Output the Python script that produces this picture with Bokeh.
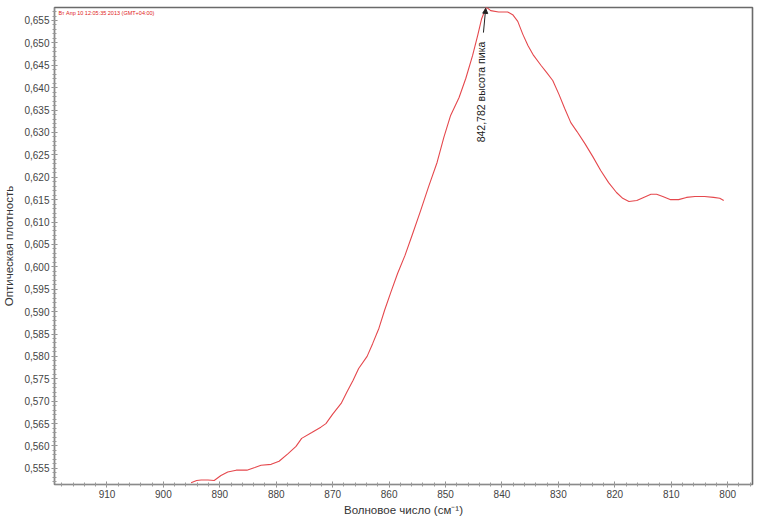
from bokeh.plotting import figure
from bokeh.models import Range1d, SingleIntervalTicker, CustomJSTickFormatter, Arrow, NormalHead, Label
from bokeh.core.properties import value
from bokeh.embed import file_html
from bokeh.resources import INLINE

# Spectrum (wavenumber, optical density)
wavenumber = [895.1, 894.1, 893.3, 892.1, 891.0, 889.8, 888.6, 887.1, 885.2, 883.8,
              882.7, 880.9, 879.5, 877.9, 876.5, 875.5, 873.7, 872.1, 871.2, 870.0,
              868.5, 867.5, 866.4, 865.4, 863.9, 862.9, 861.8, 860.8, 859.7, 858.5,
              857.2, 855.8, 854.4, 853.0, 851.5, 850.3, 849.1, 847.6, 846.4, 845.2,
              844.3, 843.6, 842.782, 842.0, 840.6, 839.0, 838.1, 837.2, 836.3, 835.4,
              834.4, 833.1, 832.1, 831.0, 829.9, 828.9, 827.8, 826.7, 825.3, 823.9,
              822.5, 821.1, 819.7, 818.6, 817.5, 816.1, 814.9, 813.6, 812.6, 811.5,
              810.1, 808.7, 807.3, 805.8, 804.1, 802.5, 801.4, 800.7]
absorbance = [0.5518, 0.5523, 0.5524, 0.5524, 0.5523, 0.5534, 0.5542, 0.5546, 0.5546, 0.5552,
              0.5557, 0.5559, 0.5566, 0.5583, 0.5599, 0.5617, 0.5630, 0.5642, 0.5650, 0.5671,
              0.5695, 0.5720, 0.5746, 0.5773, 0.5800, 0.5829, 0.5863, 0.5903, 0.5943, 0.5985,
              0.6025, 0.6075, 0.6126, 0.6179, 0.6233, 0.6289, 0.6338, 0.6378, 0.6421, 0.6472,
              0.6517, 0.6554, 0.6580, 0.6572, 0.6569, 0.6569, 0.6563, 0.6548, 0.6519, 0.6494,
              0.6472, 0.6450, 0.6434, 0.6416, 0.6385, 0.6354, 0.6322, 0.6302, 0.6275, 0.6246,
              0.6215, 0.6188, 0.6166, 0.6153, 0.6146, 0.6148, 0.6155, 0.6162, 0.6162, 0.6157,
              0.6150, 0.6150, 0.6155, 0.6157, 0.6157, 0.6155, 0.6153, 0.6148]

peak_x = 842.782
peak_y = 0.6580
peak_text = "842,782 высота пика"
header_text = "Вт Апр 10 12:05:35 2013 (GMT+04:00)"
x_label = "Волновое число (см⁻¹)"
y_label = "Оптическая плотность"

x_lo, x_hi = 919.3, 795.6
y_lo, y_hi = 0.5514, 0.6579

p = figure(width=756, height=520, output_backend="svg", toolbar_location=None,
           x_range=Range1d(x_lo, x_hi), y_range=Range1d(y_lo, y_hi),
           min_border_left=53, min_border_right=4, min_border_top=7, min_border_bottom=36)
p.background_fill_color = "white"
p.border_fill_color = "white"
p.grid.visible = False
p.outline_line_color = "#6a6a6a"
p.outline_line_width = 1.6

p.line(wavenumber, absorbance, line_color="#e5484d", line_width=1.1)

FONT = "Liberation Sans"
p.xaxis.ticker = SingleIntervalTicker(interval=10, num_minor_ticks=5)
p.yaxis.ticker = SingleIntervalTicker(interval=0.005, num_minor_ticks=5)
p.yaxis.formatter = CustomJSTickFormatter(code="return tick.toFixed(3).replace('.', ',');")
for ax in (p.xaxis[0], p.yaxis[0]):
    ax.axis_line_color = "#8a8a8a"
    ax.major_tick_line_color = "#8a8a8a"
    ax.minor_tick_line_color = "#9a9a9a"
    ax.major_tick_in = 3
    ax.major_tick_out = 3
    ax.minor_tick_in = 2
    ax.minor_tick_out = 2
    ax.major_label_text_font = FONT
    ax.major_label_text_font_size = "10px"
    ax.major_label_text_color = "#444444"
    ax.major_label_standoff = 2
    ax.axis_label_text_font = FONT
    ax.axis_label_text_font_size = "11.5px"
    ax.axis_label_text_font_style = "normal"
    ax.axis_label_text_color = "#333333"
    ax.axis_label_standoff = 3
p.xaxis.axis_label = x_label
p.yaxis.axis_label = y_label
p.yaxis.axis_label_standoff = 6

# peak marker
p.add_layout(Arrow(end=NormalHead(size=5, fill_color="#222222", line_color="#222222"),
                   x_start=peak_x + 0.5, y_start=peak_y - 0.0057,
                   x_end=peak_x + 0.1, y_end=peak_y - 0.0003,
                   line_color="#222222", line_width=1))
p.text(x=[peak_x + 0.9], y=[peak_y - 0.0302], text=[peak_text], angle=1.5708,
       text_align="left", text_baseline="middle",
       text_font=value(FONT), text_font_size="10.5px", text_color="#222222")

p.add_layout(Label(x=x_lo - 0.7, y=y_hi - 0.0013, text=header_text,
                   text_font=FONT, text_font_size="5.5px", text_color="#e02020",
                   text_baseline="middle", text_align="left"))

open("out.html", "w").write(file_html(p, INLINE))
